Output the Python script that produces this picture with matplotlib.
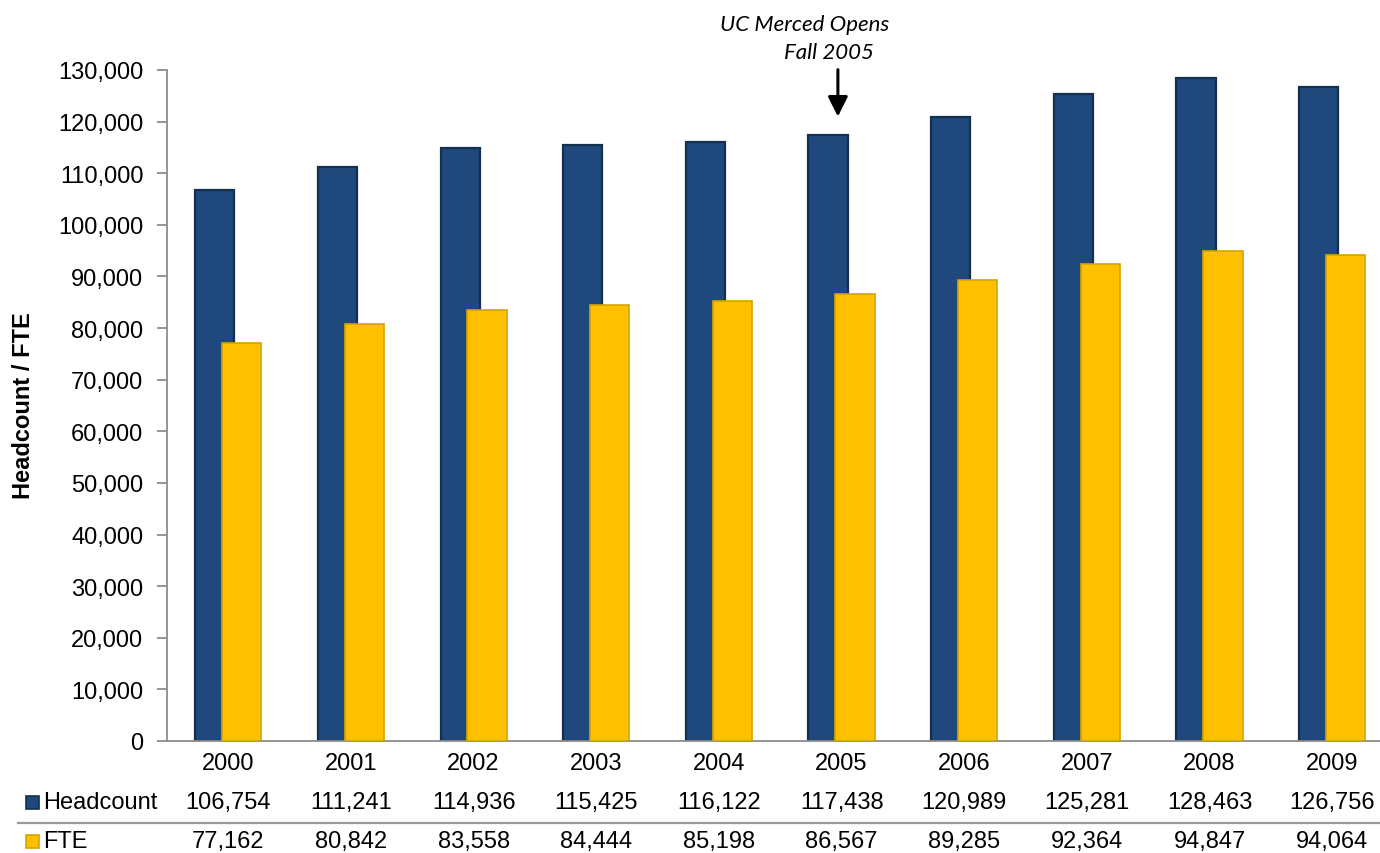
import matplotlib
matplotlib.use("Agg")
import matplotlib.pyplot as plt
import matplotlib.transforms as mtransforms
import numpy as np

plt.rcParams['font.family'] = ['Liberation Sans', 'DejaVu Sans']

# enrollment data
years = ['2000', '2001', '2002', '2003', '2004', '2005', '2006', '2007', '2008', '2009']
headcount = [106754, 111241, 114936, 115425, 116122, 117438, 120989, 125281, 128463, 126756]
fte = [77162, 80842, 83558, 84444, 85198, 86567, 89285, 92364, 94847, 94064]
yticks = list(range(0, 130001, 10000))

navy = '#1F497D'
navy_edge = '#14304F'
gold = '#FFC000'
gold_edge = '#D6A300'
axis_gray = '#8C8C8C'

fig = plt.figure(figsize=(13.8, 8.54), dpi=100)
ax = fig.add_axes([167 / 1380, 112 / 854, 1 - 167 / 1380, 671 / 854])

x = np.arange(len(years))
w = 0.32
ax.bar(x - 0.11, headcount, w, color=navy, edgecolor=navy_edge, linewidth=1.6, zorder=2)
ax.bar(x + 0.11, fte, w, color=gold, edgecolor=gold_edge, linewidth=1.2, zorder=3)

ax.set_xlim(-0.5, 9.39)
ax.set_ylim(0, 130000)
ax.set_yticks(yticks)
ax.set_yticklabels([f'{v:,}' for v in yticks], fontsize=17)
ax.tick_params(axis='y', direction='out', length=7, width=1.3, color=axis_gray, pad=10)
ax.set_xticks([])
for s in ['top', 'right']:
    ax.spines[s].set_visible(False)
for s in ['left', 'bottom']:
    ax.spines[s].set_color(axis_gray)
    ax.spines[s].set_linewidth(1.3)

fig.text(24 / 1380, 1 - 406 / 854, 'Headcount / FTE', rotation=90, fontsize=17,
         fontweight='bold', ha='center', va='center')

# data table under the axis
trans = mtransforms.blended_transform_factory(ax.transData, ax.transAxes)
row_year = -22 / 671
row_head = -61 / 671
row_fte = -100 / 671
for i in range(len(years)):
    ax.text(x[i], row_year, years[i], transform=trans, ha='center', va='center', fontsize=17)
    ax.text(x[i], row_head, f'{headcount[i]:,}', transform=trans, ha='center', va='center', fontsize=17)
    ax.text(x[i], row_fte, f'{fte[i]:,}', transform=trans, ha='center', va='center', fontsize=17)

fig.text(43 / 1380, 1 - 803 / 854, 'Headcount', ha='left', va='center', fontsize=17)
fig.text(43 / 1380, 1 - 842 / 854, 'FTE', ha='left', va='center', fontsize=17)
fig.patches.append(plt.Rectangle((26 / 1380, 1 - 810 / 854), 13 / 1380, 13 / 854,
                                 transform=fig.transFigure, facecolor=navy,
                                 edgecolor=navy_edge, linewidth=1.2))
fig.patches.append(plt.Rectangle((26 / 1380, 1 - 849 / 854), 13 / 1380, 13 / 854,
                                 transform=fig.transFigure, facecolor=gold,
                                 edgecolor=gold_edge, linewidth=1.2))
fig.lines.append(plt.Line2D([18 / 1380, 1], [1 - 824 / 854, 1 - 824 / 854],
                            transform=fig.transFigure, color='#9A9A9A', linewidth=1.6))

# UC Merced note
ax.annotate('', xy=(4.97, headcount[5] + 3000), xytext=(4.97, 130600),
            arrowprops=dict(arrowstyle='-|>', color='black', lw=2.2, mutation_scale=30),
            annotation_clip=False)
ax.text(4.7, 138900, 'UC Merced Opens', ha='center', va='center', fontsize=16,
        style='italic', family='Lato', clip_on=False)
ax.text(4.9, 133500, 'Fall 2005', ha='center', va='center', fontsize=16,
        style='italic', family='Lato', clip_on=False)

fig.savefig('out.png', dpi=100)
